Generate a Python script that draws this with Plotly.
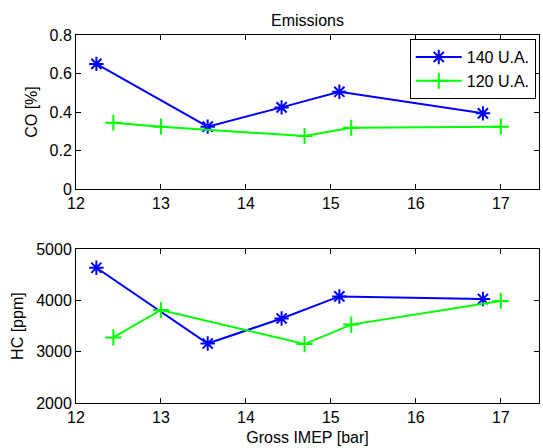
import plotly.graph_objects as go
from plotly.subplots import make_subplots

# Gross IMEP operating points [bar]
imep_140 = [12.24, 13.55, 14.42, 15.10, 16.79]
imep_120 = [12.44, 13.00, 14.69, 15.24, 17.00]

# CO emissions [%]
co_140 = [0.650, 0.324, 0.424, 0.505, 0.393]
co_120 = [0.344, 0.324, 0.275, 0.318, 0.324]

# HC emissions [ppm]
hc_140 = [4640, 3160, 3650, 4080, 4030]
hc_120 = [3280, 3815, 3150, 3530, 3990]

x_ticks = [12, 13, 14, 15, 16, 17]
co_ticks = [0, 0.2, 0.4, 0.6, 0.8]
hc_ticks = [2000, 3000, 4000, 5000]

series_names = ["140 U.A.", "120 U.A."]
BLUE = "rgb(0,0,255)"
GREEN = "rgb(0,255,0)"
FONT = "Liberation Sans, Arial, sans-serif"

fig = make_subplots(rows=2, cols=1, vertical_spacing=0.0)

def add_pair(row, y140, y120, show):
    fig.add_trace(go.Scatter(
        x=imep_140, y=y140, name=series_names[0], mode="lines+markers",
        line=dict(color=BLUE, width=2),
        marker=dict(symbol="asterisk-open", size=12, color=BLUE,
                    line=dict(color=BLUE, width=2)),
        showlegend=show, legendgroup="a"), row=row, col=1)
    fig.add_trace(go.Scatter(
        x=imep_120, y=y120, name=series_names[1], mode="lines+markers",
        line=dict(color=GREEN, width=2),
        marker=dict(symbol="cross-thin-open", size=11.5, color=GREEN,
                    line=dict(color=GREEN, width=2)),
        showlegend=show, legendgroup="b"), row=row, col=1)

add_pair(1, co_140, co_120, True)
add_pair(2, hc_140, hc_120, False)

axis_common = dict(showline=True, linecolor="black", linewidth=1, mirror="ticks",
                   ticks="inside", ticklen=5, tickcolor="black", showgrid=False,
                   zeroline=False, tickfont=dict(size=16, color="black"))

fig.update_xaxes(range=[12, 17.45], tickvals=x_ticks, **axis_common)
fig.update_xaxes(domain=[0, 1])
fig.update_yaxes(**axis_common)
fig.update_yaxes(row=1, col=1, range=[0, 0.8], tickvals=co_ticks,
                 ticktext=["0", "0.2", "0.4", "0.6", "0.8"], domain=[0.5815, 1.0],
                 title=dict(text="CO [%]", font=dict(size=16, color="black"), standoff=7))
fig.update_yaxes(row=2, col=1, range=[2000, 5000], tickvals=hc_ticks, domain=[0.0, 0.4177],
                 title=dict(text="HC [ppm]", font=dict(size=16, color="black"), standoff=8))
fig.update_xaxes(row=2, col=1,
                 title=dict(text="Gross IMEP [bar]", font=dict(size=16, color="black"), standoff=6))

fig.update_layout(
    width=543, height=448,
    margin=dict(l=76, r=4, t=35, b=45),
    paper_bgcolor="white", plot_bgcolor="white",
    font=dict(family=FONT, size=16, color="black"),
    title=dict(text="Emissions", x=(76 + 539) / 2 / 543, xanchor="center",
               y=1 - 20 / 448, yanchor="middle", font=dict(size=16, color="black")),
    legend=dict(x=0.993, y=0.989, xanchor="right", yanchor="top",
                bgcolor="white", bordercolor="black", borderwidth=1,
                font=dict(size=16, color="black"), itemwidth=46,
                tracegroupgap=0),
)

fig.write_html("out.html")
